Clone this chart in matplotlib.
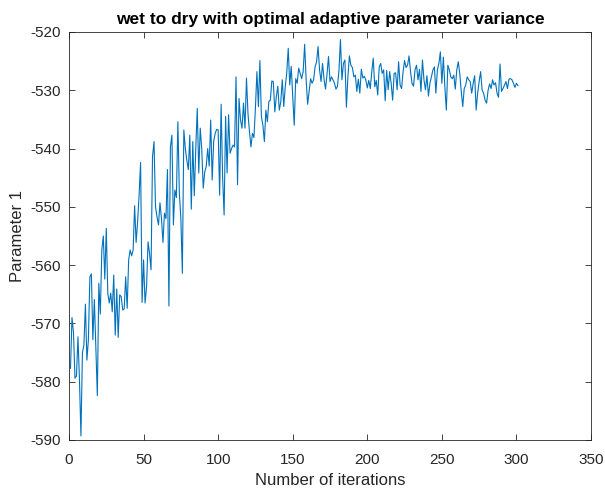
import matplotlib
matplotlib.use("Agg")
import matplotlib.pyplot as plt
import numpy as np

# parameter 1 trace, one value per iteration
param1 = [
    -577.7, -569.0, -571.5, -579.4, -579.0, -572.3, -579.5, -589.3, -575.0, -573.7,
    -566.7, -576.3, -572.8, -562.0, -561.5, -572.8, -565.9, -574.0, -582.4, -563.1,
    -568.4, -557.4, -555.0, -562.4, -553.7, -564.8, -566.5, -564.8, -568.0, -561.7,
    -572.0, -564.1, -572.4, -565.1, -565.4, -567.7, -567.5, -562.0, -567.4, -559.1,
    -557.4, -558.4, -557.4, -549.8, -556.1, -552.5, -548.0, -542.4, -566.4, -559.1,
    -566.5, -563.7, -556.0, -558.0, -560.8, -541.4, -538.8, -550.0, -551.7, -553.1,
    -549.3, -552.0, -556.1, -551.1, -552.0, -543.6, -567.0, -539.7, -537.7, -553.1,
    -547.1, -548.4, -535.4, -547.7, -552.0, -561.4, -536.8, -540.0, -542.0, -543.6,
    -537.7, -550.4, -538.8, -548.1, -540.0, -533.1, -544.2, -536.5, -540.0, -546.8,
    -544.0, -543.1, -540.0, -543.0, -535.1, -545.4, -538.8, -537.4, -536.7, -536.8,
    -548.0, -532.4, -545.0, -551.4, -534.5, -544.2, -534.2, -540.8, -540.0, -539.4,
    -539.7, -527.7, -546.2, -531.4, -535.1, -536.5, -532.2, -536.5, -527.9, -534.0,
    -537.1, -539.7, -537.4, -538.1, -533.0, -526.8, -532.8, -524.9, -534.5, -536.0,
    -538.8, -533.4, -535.4, -531.9, -531.7, -528.4, -528.5, -533.7, -531.1, -529.3,
    -533.4, -532.0, -528.2, -532.8, -529.4, -527.0, -522.8, -529.1, -525.9, -531.0,
    -536.0, -528.0, -528.8, -526.2, -527.1, -528.0, -526.8, -522.1, -528.2, -532.4,
    -530.2, -528.0, -528.8, -528.2, -526.0, -525.1, -522.5, -526.5, -528.5, -525.4,
    -528.1, -529.8, -527.2, -524.2, -528.5, -527.7, -528.2, -528.8, -529.8, -529.3,
    -526.6, -521.3, -528.2, -525.4, -524.8, -532.9, -527.7, -524.1, -525.7, -526.1,
    -527.7, -527.4, -530.2, -528.1, -530.5, -526.4, -527.9, -527.6, -528.2, -529.6,
    -528.3, -529.7, -526.8, -524.5, -529.4, -528.3, -530.8, -526.0, -525.4, -527.1,
    -526.5, -531.8, -526.6, -529.9, -526.8, -528.8, -531.7, -527.1, -527.0, -529.9,
    -525.1, -529.1, -529.7, -526.8, -524.9, -526.1, -525.7, -524.1, -526.8, -528.8,
    -529.3, -526.5, -525.7, -528.2, -526.4, -530.2, -524.8, -528.2, -529.9, -527.5,
    -531.0, -528.8, -527.7, -526.5, -526.0, -530.5, -526.5, -525.4, -523.4, -528.8,
    -524.3, -529.4, -533.4, -525.7, -526.5, -527.7, -528.0, -527.4, -529.8, -526.5,
    -525.1, -527.1, -530.2, -532.8, -529.7, -529.1, -527.7, -528.2, -528.5, -530.5,
    -528.8, -527.5, -533.4, -530.5, -528.5, -526.8, -530.0, -530.5, -531.7, -532.2,
    -530.0, -528.9, -529.7, -528.2, -529.1, -528.7, -530.5, -531.2, -525.5, -530.2,
    -529.7, -529.1, -528.5, -529.7, -528.1, -528.0, -528.2, -528.8, -529.5, -528.8,
    -529.2,
]
iterations = np.arange(1, len(param1) + 1)

x_ticks = [0, 50, 100, 150, 200, 250, 300, 350]
y_ticks = [-590, -580, -570, -560, -550, -540, -530, -520]

plt.rcParams["font.family"] = ["Liberation Sans", "DejaVu Sans"]
plt.rcParams["axes.unicode_minus"] = False
axis_grey = "#262626"

fig = plt.figure(figsize=(6.05, 4.94), dpi=100)
ax = fig.add_axes([69 / 605, 1 - 440 / 494, 522 / 605, 408 / 494])

ax.plot(iterations, param1, color="#0072BD", linewidth=0.8)

ax.set_xlim(0, 350)
ax.set_ylim(-590, -520)
ax.set_xticks(x_ticks)
ax.set_yticks(y_ticks)
ax.tick_params(direction="in", top=True, right=True, length=4, width=0.6,
               colors=axis_grey, labelsize=11)
ax.tick_params(axis="x", pad=9)
ax.tick_params(axis="y", pad=6)
for s in ax.spines.values():
    s.set_color(axis_grey)
    s.set_linewidth(0.6)

ax.set_xlabel("Number of iterations", fontsize=12, color=axis_grey, labelpad=5)
ax.set_ylabel("Parameter 1", fontsize=12, color=axis_grey, labelpad=4)
ax.set_title("wet to dry with optimal adaptive parameter variance",
             fontsize=12.5, fontweight="bold", color="black", pad=6)

fig.savefig("out.png", dpi=100)
